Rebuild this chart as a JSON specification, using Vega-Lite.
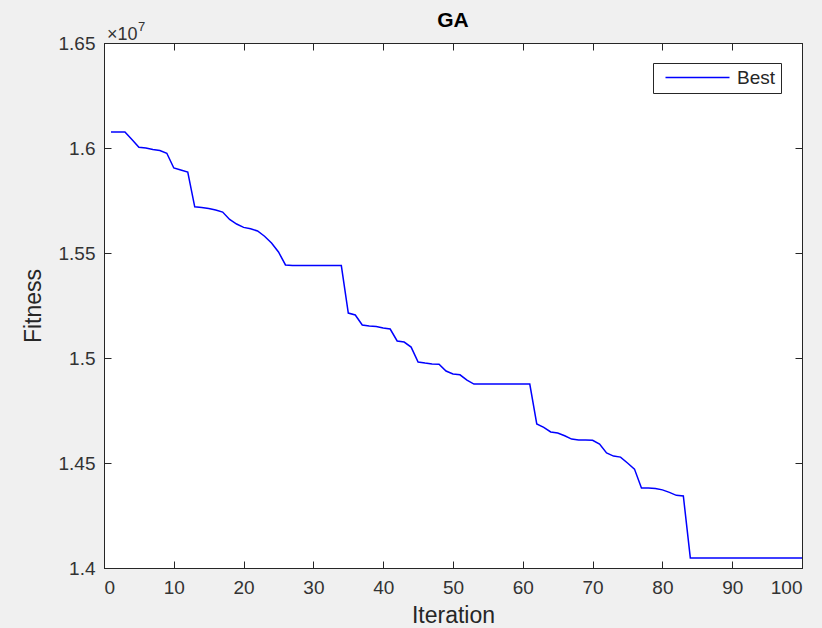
{
  "$schema": "https://vega.github.io/schema/vega-lite/v6.json",
  "width": 698,
  "height": 525,
  "autosize": {"type": "none"},
  "padding": {"left": 104, "top": 43, "right": 20, "bottom": 60},
  "background": "#f0f0f0",
  "config": {
    "view": {"fill": "white", "stroke": "#262626", "strokeWidth": 1},
    "font": "Liberation Sans",
    "axis": {
      "domainColor": "#262626",
      "tickColor": "#262626",
      "labelColor": "#333333",
      "titleColor": "#262626",
      "labelFont": "Liberation Sans",
      "titleFont": "Liberation Sans",
      "labelFontSize": 19,
      "titleFontSize": 23,
      "titleFontWeight": "normal",
      "grid": false,
      "tickSize": -7
    }
  },
  "title": {"text": "GA", "fontSize": 21, "fontWeight": "bold", "color": "#000000", "font": "Liberation Sans", "offset": -10},
  "data": {"values": [
    {"iter": 1, "fitness": 16076000, "series": "Best"},
    {"iter": 2, "fitness": 16076000, "series": "Best"},
    {"iter": 3, "fitness": 16076000, "series": "Best"},
    {"iter": 4, "fitness": 16040000, "series": "Best"},
    {"iter": 5, "fitness": 16003000, "series": "Best"},
    {"iter": 6, "fitness": 16000000, "series": "Best"},
    {"iter": 7, "fitness": 15993000, "series": "Best"},
    {"iter": 8, "fitness": 15988000, "series": "Best"},
    {"iter": 9, "fitness": 15975000, "series": "Best"},
    {"iter": 10, "fitness": 15905000, "series": "Best"},
    {"iter": 11, "fitness": 15895000, "series": "Best"},
    {"iter": 12, "fitness": 15885000, "series": "Best"},
    {"iter": 13, "fitness": 15720000, "series": "Best"},
    {"iter": 14, "fitness": 15717000, "series": "Best"},
    {"iter": 15, "fitness": 15712000, "series": "Best"},
    {"iter": 16, "fitness": 15705000, "series": "Best"},
    {"iter": 17, "fitness": 15695000, "series": "Best"},
    {"iter": 18, "fitness": 15660000, "series": "Best"},
    {"iter": 19, "fitness": 15638000, "series": "Best"},
    {"iter": 20, "fitness": 15622000, "series": "Best"},
    {"iter": 21, "fitness": 15615000, "series": "Best"},
    {"iter": 22, "fitness": 15605000, "series": "Best"},
    {"iter": 23, "fitness": 15580000, "series": "Best"},
    {"iter": 24, "fitness": 15548000, "series": "Best"},
    {"iter": 25, "fitness": 15505000, "series": "Best"},
    {"iter": 26, "fitness": 15443000, "series": "Best"},
    {"iter": 27, "fitness": 15440000, "series": "Best"},
    {"iter": 28, "fitness": 15440000, "series": "Best"},
    {"iter": 29, "fitness": 15440000, "series": "Best"},
    {"iter": 30, "fitness": 15440000, "series": "Best"},
    {"iter": 31, "fitness": 15440000, "series": "Best"},
    {"iter": 32, "fitness": 15440000, "series": "Best"},
    {"iter": 33, "fitness": 15440000, "series": "Best"},
    {"iter": 34, "fitness": 15440000, "series": "Best"},
    {"iter": 35, "fitness": 15214000, "series": "Best"},
    {"iter": 36, "fitness": 15205000, "series": "Best"},
    {"iter": 37, "fitness": 15157000, "series": "Best"},
    {"iter": 38, "fitness": 15152000, "series": "Best"},
    {"iter": 39, "fitness": 15150000, "series": "Best"},
    {"iter": 40, "fitness": 15143000, "series": "Best"},
    {"iter": 41, "fitness": 15138000, "series": "Best"},
    {"iter": 42, "fitness": 15081000, "series": "Best"},
    {"iter": 43, "fitness": 15076000, "series": "Best"},
    {"iter": 44, "fitness": 15052000, "series": "Best"},
    {"iter": 45, "fitness": 14981000, "series": "Best"},
    {"iter": 46, "fitness": 14976000, "series": "Best"},
    {"iter": 47, "fitness": 14972000, "series": "Best"},
    {"iter": 48, "fitness": 14970000, "series": "Best"},
    {"iter": 49, "fitness": 14938000, "series": "Best"},
    {"iter": 50, "fitness": 14924000, "series": "Best"},
    {"iter": 51, "fitness": 14920000, "series": "Best"},
    {"iter": 52, "fitness": 14895000, "series": "Best"},
    {"iter": 53, "fitness": 14876000, "series": "Best"},
    {"iter": 54, "fitness": 14876000, "series": "Best"},
    {"iter": 55, "fitness": 14876000, "series": "Best"},
    {"iter": 56, "fitness": 14876000, "series": "Best"},
    {"iter": 57, "fitness": 14876000, "series": "Best"},
    {"iter": 58, "fitness": 14876000, "series": "Best"},
    {"iter": 59, "fitness": 14876000, "series": "Best"},
    {"iter": 60, "fitness": 14876000, "series": "Best"},
    {"iter": 61, "fitness": 14876000, "series": "Best"},
    {"iter": 62, "fitness": 14686000, "series": "Best"},
    {"iter": 63, "fitness": 14670000, "series": "Best"},
    {"iter": 64, "fitness": 14648000, "series": "Best"},
    {"iter": 65, "fitness": 14643000, "series": "Best"},
    {"iter": 66, "fitness": 14630000, "series": "Best"},
    {"iter": 67, "fitness": 14614000, "series": "Best"},
    {"iter": 68, "fitness": 14610000, "series": "Best"},
    {"iter": 69, "fitness": 14610000, "series": "Best"},
    {"iter": 70, "fitness": 14608000, "series": "Best"},
    {"iter": 71, "fitness": 14590000, "series": "Best"},
    {"iter": 72, "fitness": 14548000, "series": "Best"},
    {"iter": 73, "fitness": 14533000, "series": "Best"},
    {"iter": 74, "fitness": 14528000, "series": "Best"},
    {"iter": 75, "fitness": 14500000, "series": "Best"},
    {"iter": 76, "fitness": 14471000, "series": "Best"},
    {"iter": 77, "fitness": 14381000, "series": "Best"},
    {"iter": 78, "fitness": 14381000, "series": "Best"},
    {"iter": 79, "fitness": 14379000, "series": "Best"},
    {"iter": 80, "fitness": 14372000, "series": "Best"},
    {"iter": 81, "fitness": 14360000, "series": "Best"},
    {"iter": 82, "fitness": 14346000, "series": "Best"},
    {"iter": 83, "fitness": 14343000, "series": "Best"},
    {"iter": 84, "fitness": 14048000, "series": "Best"},
    {"iter": 85, "fitness": 14048000, "series": "Best"},
    {"iter": 86, "fitness": 14048000, "series": "Best"},
    {"iter": 87, "fitness": 14048000, "series": "Best"},
    {"iter": 88, "fitness": 14048000, "series": "Best"},
    {"iter": 89, "fitness": 14048000, "series": "Best"},
    {"iter": 90, "fitness": 14048000, "series": "Best"},
    {"iter": 91, "fitness": 14048000, "series": "Best"},
    {"iter": 92, "fitness": 14048000, "series": "Best"},
    {"iter": 93, "fitness": 14048000, "series": "Best"},
    {"iter": 94, "fitness": 14048000, "series": "Best"},
    {"iter": 95, "fitness": 14048000, "series": "Best"},
    {"iter": 96, "fitness": 14048000, "series": "Best"},
    {"iter": 97, "fitness": 14048000, "series": "Best"},
    {"iter": 98, "fitness": 14048000, "series": "Best"},
    {"iter": 99, "fitness": 14048000, "series": "Best"},
    {"iter": 100, "fitness": 14048000, "series": "Best"}
  ]},
  "resolve": {"axis": {"x": "independent", "y": "independent"}},
  "layer": [
    {
      "mark": {"type": "line", "strokeWidth": 1.5, "clip": true},
      "encoding": {
        "x": {"field": "iter", "type": "quantitative",
          "scale": {"domain": [0, 100], "nice": false},
          "axis": {"title": "Iteration", "values": [0,10,20,30,40,50,60,70,80,90,100], "labelPadding": 17, "titlePadding": 7}},
        "y": {"field": "fitness", "type": "quantitative",
          "scale": {"domain": [14000000, 16500000], "nice": false, "zero": false},
          "axis": {"title": "Fitness", "values": [14000000,14500000,15000000,15500000,16000000,16500000],
            "labelExpr": "format(datum.value/1e7, '.3~g')", "labelPadding": 16, "titlePadding": 13}},
        "color": {"field": "series", "type": "nominal",
          "scale": {"domain": ["Best"], "range": ["#0000ff"]},
          "legend": {"title": null, "orient": "none", "legendX": 549, "legendY": 20,
            "symbolType": "M-0.25,0H7.75", "symbolSize": 256, "symbolStrokeWidth": 1.5,
            "labelFontSize": 19, "labelColor": "#262626", "labelFont": "Liberation Sans",
            "fillColor": "white", "strokeColor": "#262626", "padding": 5, "labelOffset": 60}}
      }
    },
    {
      "mark": {"type": "rule", "opacity": 0},
      "encoding": {
        "x": {"field": "iter", "type": "quantitative", "aggregate": "min",
          "axis": {"orient": "top", "title": null, "labels": false, "values": [0,10,20,30,40,50,60,70,80,90,100]}},
        "y": {"field": "fitness", "type": "quantitative", "aggregate": "min",
          "axis": {"orient": "right", "title": null, "labels": false, "values": [14000000,14500000,15000000,15500000,16000000,16500000]}}
      }
    },
    {
      "data": {"values": [{"x": 0, "y": 16500000, "label": "×10"}]},
      "mark": {"type": "text", "align": "left", "baseline": "alphabetic", "dx": 3, "dy": -3, "fontSize": 18, "color": "#333333", "font": "Liberation Sans"},
      "encoding": {
        "x": {"field": "x", "type": "quantitative", "axis": null},
        "y": {"field": "y", "type": "quantitative", "axis": null},
        "text": {"field": "label"}
      }
    },
    {
      "data": {"values": [{"x": 0, "y": 16500000, "label": "7"}]},
      "mark": {"type": "text", "align": "left", "baseline": "alphabetic", "dx": 34, "dy": -12, "fontSize": 13, "color": "#333333", "font": "Liberation Sans"},
      "encoding": {
        "x": {"field": "x", "type": "quantitative", "axis": null},
        "y": {"field": "y", "type": "quantitative", "axis": null},
        "text": {"field": "label"}
      }
    }
  ]
}
